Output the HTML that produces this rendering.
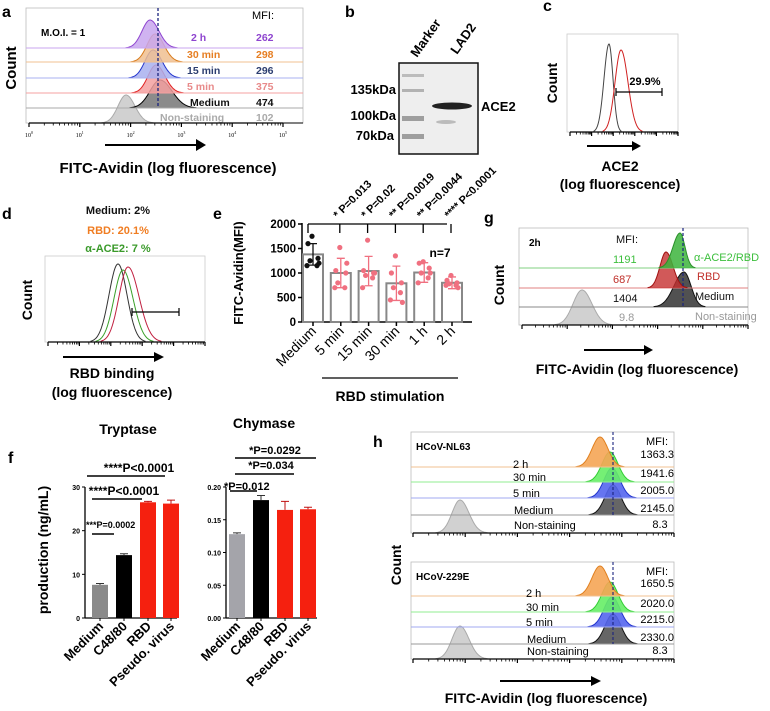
<!DOCTYPE html>
<html><head><meta charset="utf-8"><style>
html,body{margin:0;padding:0;background:#fff}
svg{display:block;font-family:"Liberation Sans",Arial,sans-serif}
.b{font-weight:bold}
</style></head><body>
<svg id="fig" width="770" height="711" viewBox="0 0 770 711" xmlns="http://www.w3.org/2000/svg">
<!-- Panel a -->
<g>
<text x="2" y="17" class="b" font-size="16">a</text>
<rect x="26" y="8" width="277" height="115" fill="none" stroke="#bbb" stroke-width="0.8"/>
<g id="a-peaks"></g>
<line x1="158" y1="8" x2="158" y2="108" stroke="#1a237e" stroke-dasharray="3,2" stroke-width="1.3"/>
<text x="41" y="36" class="b" font-size="10">M.O.I. = 1</text>
<text x="252" y="19" font-size="11">MFI:</text>
<g class="b" font-size="10.5">
<text x="191" y="41" fill="#8e44cf">2 h</text><text x="256" y="41" fill="#8e44cf">262</text>
<text x="187" y="58" fill="#e67e22">30 min</text><text x="256" y="58" fill="#e67e22">298</text>
<text x="187" y="74" fill="#2c3e70">15 min</text><text x="256" y="74" fill="#2c3e70">296</text>
<text x="187" y="90" fill="#e88a8a">5 min</text><text x="256" y="90" fill="#e88a8a">375</text>
<text x="190" y="106" fill="#111">Medium</text><text x="256" y="106" fill="#111">474</text>
<text x="160" y="121" fill="#aaa">Non-staining</text><text x="256" y="121" fill="#aaa">102</text>
</g>
<g id="a-axis"></g>
<line x1="105" y1="145" x2="198" y2="145" stroke="#000" stroke-width="2"/>
<polygon points="196,139 206,145 196,151" fill="#000"/>
<text x="168" y="173" text-anchor="middle" class="b" font-size="15">FITC-Avidin (log fluorescence)</text>
<text transform="translate(16,68) rotate(-90)" text-anchor="middle" class="b" font-size="15">Count</text>
</g>

<!-- Panel b -->
<g>
<text x="345" y="17" class="b" font-size="16">b</text>
<text transform="translate(417,58) rotate(-55)" class="b" font-size="13">Marker</text>
<text transform="translate(457,55) rotate(-55)" class="b" font-size="13">LAD2</text>
<rect x="399" y="63" width="79" height="91" fill="#eeeeee" stroke="#111" stroke-width="1.5"/>
<g fill="#8a8a8a">
<rect x="402" y="74" width="22" height="3" opacity="0.5"/>
<rect x="402" y="89" width="22" height="3" opacity="0.6"/>
<rect x="402" y="116" width="22" height="5" opacity="0.8"/>
<rect x="402" y="134" width="22" height="5" opacity="0.8"/>
</g>
<ellipse cx="452" cy="106" rx="20" ry="3.5" fill="#222"/>
<ellipse cx="446" cy="122" rx="10" ry="2" fill="#999" opacity="0.6"/>
<g class="b" font-size="13" text-anchor="end">
<text x="396" y="94">135kDa</text><text x="396" y="120">100kDa</text><text x="394" y="140">70kDa</text>
</g>
<text x="481" y="111" class="b" font-size="13">ACE2</text>
</g>

<!-- Panel c -->
<g>
<text x="543" y="11" class="b" font-size="16">c</text>
<rect x="567" y="34" width="111" height="98" fill="none" stroke="#ccc" stroke-width="0.8"/>
<g id="c-peaks"></g>
<text x="645" y="85" text-anchor="middle" class="b" font-size="11">29.9%</text>
<path d="M616,92 H662 M616,88 V96 M662,88 V96" stroke="#000" stroke-width="1.2"/>
<g id="c-axis"></g>
<text transform="translate(557,83) rotate(-90)" text-anchor="middle" class="b" font-size="14">Count</text>
<line x1="587" y1="146" x2="633" y2="146" stroke="#000" stroke-width="2"/>
<polygon points="632,141 641,146 632,151" fill="#000"/>
<text x="620" y="171" text-anchor="middle" class="b" font-size="14">ACE2</text>
<text x="620" y="189" text-anchor="middle" class="b" font-size="14">(log fluorescence)</text>
</g>

<!-- Panel d -->
<g>
<text x="2" y="219" class="b" font-size="16">d</text>
<g class="b" font-size="11" text-anchor="middle">
<text x="118" y="214" fill="#111">Medium: 2%</text>
<text x="118" y="234" fill="#f07d22">RBD: 20.1%</text>
<text x="118" y="252" fill="#3a9a2a">α-ACE2: 7 %</text>
</g>
<rect x="45" y="256" width="160" height="86" fill="none" stroke="#ccc" stroke-width="0.8"/>
<g id="d-peaks"></g>
<path d="M132,312 H179 M132,308 V316 M179,308 V316" stroke="#000" stroke-width="1.2"/>
<g id="d-axis"></g>
<text transform="translate(32,300) rotate(-90)" text-anchor="middle" class="b" font-size="14">Count</text>
<line x1="63" y1="357" x2="155" y2="357" stroke="#000" stroke-width="2"/>
<polygon points="154,352 164,357 154,362" fill="#000"/>
<text x="112" y="378" text-anchor="middle" class="b" font-size="14">RBD binding</text>
<text x="112" y="397" text-anchor="middle" class="b" font-size="14">(log fluorescence)</text>
</g>

<!-- Panel e -->
<g>
<text x="213" y="219" class="b" font-size="16">e</text>
<g id="e-chart"></g>
<text x="440" y="257" text-anchor="middle" class="b" font-size="12">n=7</text>
<line x1="322" y1="378" x2="458" y2="378" stroke="#000" stroke-width="1.2"/>
<text x="390" y="401" text-anchor="middle" class="b" font-size="14">RBD stimulation</text>
<text transform="translate(243,273) rotate(-90)" text-anchor="middle" class="b" font-size="13">FITC-Avidin(MFI)</text>
</g>

<!-- Panel g -->
<g>
<text x="484" y="223" class="b" font-size="16">g</text>
<rect x="519" y="228" width="229" height="97" fill="none" stroke="#bbb" stroke-width="0.8"/>
<g id="g-peaks"></g>
<line x1="683" y1="228" x2="683" y2="307" stroke="#1a237e" stroke-dasharray="3,2" stroke-width="1.2"/>
<text x="529" y="246" class="b" font-size="10">2h</text>
<g font-size="11">
<text x="616" y="243" fill="#111">MFI:</text>
<text x="613" y="263" fill="#3cbf3c">1191</text>
<text x="613" y="283" fill="#c0302a">687</text>
<text x="613" y="302" fill="#111">1404</text>
<text x="619" y="321" fill="#999">9.8</text>
<text x="694" y="261" fill="#3cbf3c">α-ACE2/RBD</text>
<text x="697" y="280" fill="#c0302a">RBD</text>
<text x="695" y="300" fill="#111">Medium</text>
<text x="695" y="320" fill="#999">Non-staining</text>
</g>
<g id="g-axis"></g>
<text transform="translate(504,285) rotate(-90)" text-anchor="middle" class="b" font-size="14">Count</text>
<line x1="584" y1="350" x2="645" y2="350" stroke="#000" stroke-width="2"/>
<polygon points="644,345 653,350 644,355" fill="#000"/>
<text x="637" y="374" text-anchor="middle" class="b" font-size="14">FITC-Avidin (log fluorescence)</text>
</g>

<!-- Panel f -->
<g>
<text x="8" y="463" class="b" font-size="16">f</text>
<text x="128" y="434" text-anchor="middle" class="b" font-size="14">Tryptase</text>
<text x="264" y="428" text-anchor="middle" class="b" font-size="14">Chymase</text>
<g id="f-chart"></g>
<text transform="translate(48,550) rotate(-90)" text-anchor="middle" class="b" font-size="14">production (ng/mL)</text>
</g>

<!-- Panel h -->
<g>
<text x="373" y="447" class="b" font-size="16">h</text>
<g id="h-chart"></g>
<text transform="translate(401,565) rotate(-90)" text-anchor="middle" class="b" font-size="14">Count</text>
<line x1="500" y1="681" x2="592" y2="681" stroke="#000" stroke-width="2"/>
<polygon points="591,676 601,681 591,686" fill="#000"/>
<text x="546" y="703" text-anchor="middle" class="b" font-size="14">FITC-Avidin (log fluorescence)</text>
</g>
</svg>
<script>
// ===== Panel e data =====
const eCategories = ["Medium","5 min","15 min","30 min","1 h","2 h"];
const eMeans = [1380,1000,1040,790,1010,800];
const eSD = [220,300,300,350,200,120];
const ePoints = [
 [1750,1600,1300,1250,1150,1150,1200],
 [1520,1050,1000,800,700,700,1200],
 [1670,1050,1000,950,900,700,1000],
 [1350,1000,800,700,600,450,400],
 [1230,1200,1100,1000,900,800,1000],
 [950,850,800,780,750,750,700]];
const eTicks = [0,500,1000,1500,2000];
const ePLabels = ["* P=0.013","* P=0.02","** P=0.0019","** P=0.0044","**** P<0.0001"];
// ===== Panel f data =====
const fCategories = ["Medium","C48/80","RBD","Pseudo. virus"];
const tryptaseVals = [7.6,14.4,26.5,26.2];
const tryptaseErr = [0.3,0.3,0.2,0.8];
const tryptaseTicks = [0,10,20,30];
const chymaseVals = [0.128,0.180,0.165,0.166];
const chymaseErr = [0.002,0.007,0.013,0.003];
const chymaseTicks = [0,0.05,0.10,0.15,0.20];
// ===== Flow MFI labels =====
const h1Labels = ["2 h","30 min","5 min","Medium","Non-staining"];
const h1MFI = ["1363.3","1941.6","2005.0","2145.0","8.3"];
const h2MFI = ["1650.5","2020.0","2215.0","2330.0","8.3"];

const NS="http://www.w3.org/2000/svg";
function el(tag,attrs,parent,txt){const e=document.createElementNS(NS,tag);for(const k in attrs)e.setAttribute(k,attrs[k]);if(txt!==undefined)e.textContent=txt;parent.appendChild(e);return e;}
function peak(parent,cx,base,h,sl,sr,fill,stroke,op){
  let d="M"+(cx-3*sl)+","+base;
  for(let x=cx-3*sl;x<=cx+3*sr;x+=0.5){const s=x<cx?sl:sr;const y=base-h*Math.exp(-0.5*((x-cx)/s)**2);d+=" L"+x.toFixed(1)+","+y.toFixed(1);}
  d+=" L"+(cx+3*sr)+","+base;
  const p=el("path",{d:d,fill:fill,"fill-opacity":op,stroke:stroke,"stroke-width":1},parent);
  
  
  return p;
}
function logAxis(parent,x0,x1,y,dec,labels){
  el("line",{x1:x0,y1:y,x2:x1,y2:y,stroke:"#000","stroke-width":1.2},parent);
  const w=(x1-x0)/dec;
  for(let i=0;i<=dec;i++){const x=x0+i*w;el("line",{x1:x,y1:y,x2:x,y2:y+4,stroke:"#000","stroke-width":1.2},parent);
    if(labels){const t=el("text",{x:x,y:y+14,"text-anchor":"middle","font-size":"6","font-family":"Liberation Serif"},parent,"10");el("tspan",{dy:-3,"font-size":"4"},t,String(i));}
    if(i<dec)for(let k=2;k<=9;k++){const xx=x+w*Math.log10(k);el("line",{x1:xx,y1:y,x2:xx,y2:y+2.5,stroke:"#000","stroke-width":0.8},parent);}}
}
// Panel a
(function(){
 const g=document.getElementById("a-peaks");
 const rows=[[48,"#c8a6ef","#8e44cf",150],[62,"#f0c090","#d87a1a",155],[78,"#a8b0f0","#2233cc",153],[93,"#f5a0a0","#e02020",156],[108,"#777","#000",160]];
 const lines=[[48,"#c8a6ef"],[62,"#f0c090"],[78,"#a8b0f0"],[93,"#f5a0a0"],[108,"#aaa"]];
 peak(g,126,123,28,8,9,"#ccc","#aaa",0.9);
 rows.slice().reverse().forEach((r,idx)=>{const i=rows.length-1-idx;peak(g,r[3],r[0],28,i==4?10:8,i==4?12:9,r[1],r[2],0.85);el("line",{x1:26,y1:r[0],x2:303,y2:r[0],stroke:lines[i][1],"stroke-width":1},g);});
 logAxis(document.getElementById("a-axis"),29,283,123,5,true);
 el("line",{x1:283,y1:123,x2:303,y2:123,stroke:"#000"},document.getElementById("a-axis"));
})();
// Panel c
(function(){
 const g=document.getElementById("c-peaks");
 peak(g,609,132,88,5,4,"none","#444",1);
 peak(g,621,132,82,6,7,"none","#d02020",1);
 logAxis(document.getElementById("c-axis"),570,678,132,5,false);
})();
// Panel d
(function(){
 const g=document.getElementById("d-peaks");
 peak(g,118,342,78,9,9,"none","#333",1);
 peak(g,123,342,72,9,10,"none","#3aa02a",1);
 peak(g,128,342,75,9,11,"none","#c02040",1);
 logAxis(document.getElementById("d-axis"),48,205,342,5,false);
})();
// Panel g
(function(){
 const g=document.getElementById("g-peaks");
 peak(g,582,325,35,9,10,"#ccc","#aaa",0.9);
 el("line",{x1:519,y1:307,x2:748,y2:307,stroke:"#888"},g);
 peak(g,684,307,35,10,7,"#333","#111",0.85);
 el("line",{x1:519,y1:288,x2:748,y2:288,stroke:"#e08080"},g);
 peak(g,666,288,36,6,7,"#c53030","#a01010",0.8);
 el("line",{x1:519,y1:268,x2:748,y2:268,stroke:"#80d080"},g);
 peak(g,680,268,35,7,5,"#3cb43c","#2a902a",0.85);
 logAxis(document.getElementById("g-axis"),522,748,325,5,false);
})();
// Panel h
(function(){
 const g=document.getElementById("h-chart");
 function box(top,bases,bottom,title,mfi){
  el("rect",{x:411,y:top,width:263,height:bottom-top,fill:"none",stroke:"#bbb","stroke-width":0.8},g);
  peak(g,460,bottom,33,8,9,"#ccc","#aaa",0.9);
  const cols=[["#f5a555","#e08020",600],["#66ee66","#33cc33",610],["#5566ee","#2233cc",612],["#555","#111",613]];
  const lc=["#f0c090","#90ee90","#a0a8f0","#999"];
  for(let i=3;i>=0;i--){const b=bases[i];peak(g,cols[i][2],b,30,8,8,cols[i][0],cols[i][1],0.9);el("line",{x1:411,y1:b,x2:674,y2:b,stroke:lc[i]},g);}
  el("line",{x1:613,y1:top,x2:613,y2:bases[3],stroke:"#1a237e","stroke-dasharray":"3,2","stroke-width":1.1},g);
  el("text",{x:416,y:top+18,"font-size":"10","font-weight":"bold"},g,title);
  el("text",{x:668,y:top+13,"font-size":"11","text-anchor":"end"},g,"MFI:");
  const ys=[bases[0]-9,bases[1]-5,bases[2]-4,bases[3]-3,bottom-5];
  const lx=[513,513,513,514,514];
  const ly=[bases[0]+1,bases[1]-1,bases[2]-1,bases[3]-1,bottom-4];
  for(let i=0;i<5;i++){
   el("text",{x:i==4?660:674,y:ys[i],"font-size":"11","text-anchor":i==4?"middle":"end"},g,mfi[i]);
   el("text",{x:lx[i]+(title=="HCoV-229E"?13:0),y:ly[i],"font-size":"11"},g,h1Labels[i]);
  }
  logAxis(g,413,674,bottom,5,false);
 }
 box(432,[467,482,498,515],533,"HCoV-NL63",h1MFI);
 box(562,[596,612,627,644],659,"HCoV-229E",h2MFI);
})();
// Panel e chart
(function(){
 const g=document.getElementById("e-chart");
 const x0=302,xEnd=472,y0=322,yTop=224,step=27.8,first=313;
 const ys=v=>y0-(v/2000)*(y0-yTop);
 const xs=i=>first+i*step;
 el("line",{x1:x0,y1:yTop-1,x2:x0,y2:y0,stroke:"#000","stroke-width":1.5},g);
 el("line",{x1:x0,y1:y0,x2:xEnd,y2:y0,stroke:"#000","stroke-width":1.5},g);
 eTicks.forEach(t=>{el("line",{x1:x0-4,y1:ys(t),x2:x0,y2:ys(t),stroke:"#000","stroke-width":1.5},g);
  const tx=el("text",{x:x0-6,y:ys(t)+4,"text-anchor":"end","font-size":"11.5","font-weight":"bold"},g,String(t));
  });
 eCategories.forEach((c,i)=>{
  const cx=xs(i);
  const r=el("rect",{x:cx-10,y:ys(eMeans[i]),width:20,height:y0-ys(eMeans[i]),fill:"#fff",stroke:"#888","stroke-width":2},g);
  
  
  const col=i==0?"#111":"#f07080";
  el("path",{d:`M${cx},${ys(eMeans[i]+eSD[i])} V${ys(eMeans[i]-eSD[i])} M${cx-4},${ys(eMeans[i]+eSD[i])} H${cx+4} M${cx-4},${ys(eMeans[i]-eSD[i])} H${cx+4}`,stroke:col,"stroke-width":1.3,fill:"none"},g);
  ePoints[i].forEach((v,j)=>{const off=[-1,-5,5,-3,4,-6,6][j];const d=el("circle",{cx:cx+off,cy:ys(v),r:2.6,fill:col},g);
   });
  el("line",{x1:cx,y1:y0,x2:cx,y2:y0+4,stroke:"#000","stroke-width":1.5},g);
  const t=el("text",{transform:`translate(${cx+4},${y0+10}) rotate(-45)`,"text-anchor":"end","font-size":"14"},g,c);
  
 });
 const by=224;
 el("line",{x1:xs(0)-5,y1:by,x2:xs(5)-5,y2:by,stroke:"#000","stroke-width":1.3},g);
 el("line",{x1:xs(0)-5,y1:by,x2:xs(0)-5,y2:by+9,stroke:"#000","stroke-width":1.3},g);
 ePLabels.forEach((p,i)=>{const x=xs(i+1)-1;
  el("line",{x1:x,y1:by,x2:x,y2:by+9,stroke:"#000","stroke-width":1.3},g);
  const t=el("text",{transform:`translate(${x-2},${by-5}) rotate(-45)`,"font-size":"11","font-weight":"bold"},g,p);
  });
})();
// Panel f charts
(function(){
 const g=document.getElementById("f-chart");
 function chart(x0,xEnd,yTop,y0,max,ticks,vals,errs,centers,colors,fmt,name){
  const ys=v=>y0-(v/max)*(y0-yTop);
  el("line",{x1:x0,y1:yTop,x2:x0,y2:y0,stroke:"#000","stroke-width":1.3},g);
  el("line",{x1:x0,y1:y0,x2:xEnd,y2:y0,stroke:"#000","stroke-width":1.3},g);
  ticks.forEach(t=>{el("line",{x1:x0-3,y1:ys(t),x2:x0,y2:ys(t),stroke:"#000"},g);
   el("text",{x:x0-5,y:ys(t)+3,"text-anchor":"end","font-size":"7","font-weight":"bold"},g,fmt(t));});
  vals.forEach((v,i)=>{const cx=centers[i];
   const r=el("rect",{x:cx-8,y:ys(v),width:16,height:y0-ys(v),fill:colors[i]},g);
   
   
   el("path",{d:`M${cx},${ys(v)} V${ys(v+errs[i])} M${cx-4},${ys(v+errs[i])} H${cx+4}`,stroke:colors[i]=="#f5200f"?"#c01010":"#333","stroke-width":1},g);
   el("line",{x1:cx,y1:y0,x2:cx,y2:y0+3,stroke:"#000"},g);
   const t=el("text",{transform:`translate(${cx+4},${y0+9}) rotate(-45)`,"text-anchor":"end","font-size":"13","font-weight":"bold"},g,fCategories[i]);
   });
 }
 chart(85,177,487,618,30,tryptaseTicks,tryptaseVals,tryptaseErr,[100,124,148,171],["#8a8a8a","#000","#f5200f","#f5200f"],t=>String(t),"tryptase");
 chart(226,317,487,618,0.20,chymaseTicks,chymaseVals,chymaseErr,[237,261,285,308],["#a4a4aa","#000","#f5200f","#f5200f"],t=>t.toFixed(2),"chymase");
 function sig(x1,x2,y,tx,ty,txt,fs,anchor){el("line",{x1:x1,y1:y,x2:x2,y2:y,stroke:"#000","stroke-width":1.5},g);
  el("text",{x:tx,y:ty,"text-anchor":anchor||"middle","font-size":fs,"font-weight":"bold"},g,txt);}
 sig(87,165,476,139,472,"****P<0.0001",12);
 sig(92,142,499,124,495,"****P<0.0001",12);
 sig(92,114,534,86,528,"***P=0.0002",9,"start");
 sig(235,316,458,275,454,"*P=0.0292",11);
 sig(235,294,474,271,469,"*P=0.034",11);
 sig(230,257,491,224,490,"*P=0.012",11,"start");
})();
</script>
</body></html>
